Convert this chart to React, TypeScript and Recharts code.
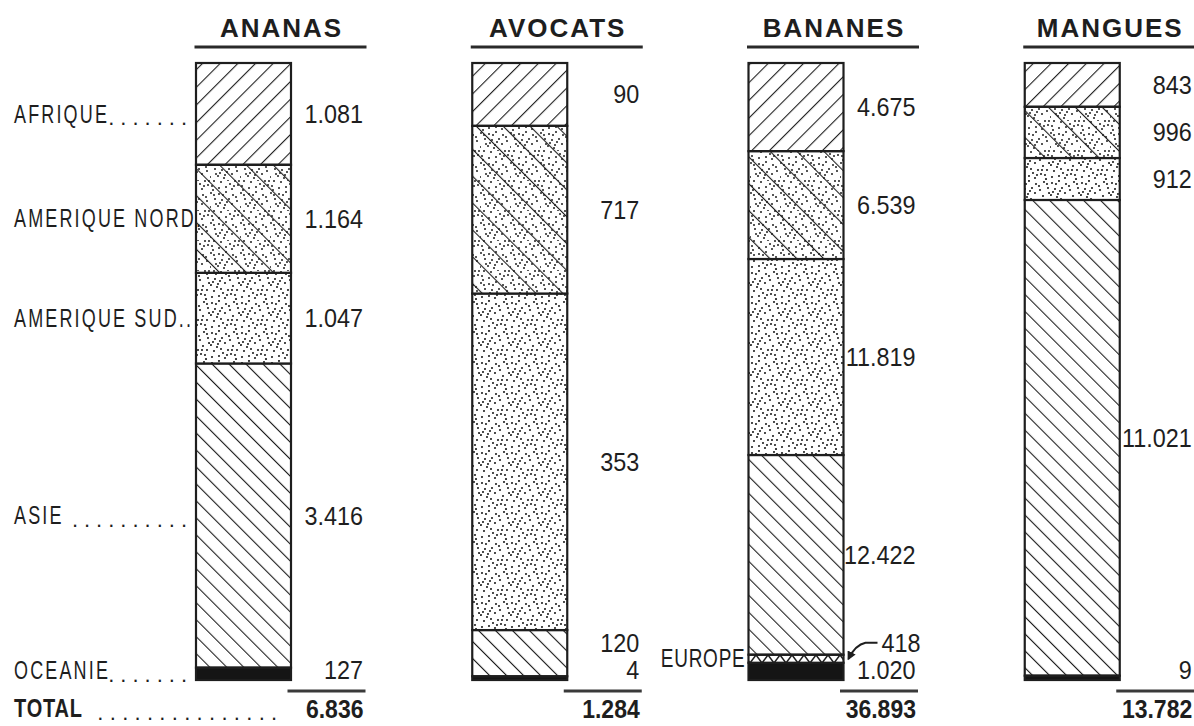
import React from 'react';
import { BarChart, Bar, XAxis, YAxis } from 'recharts';

// ---- data ----
const categories = ['ANANAS', 'AVOCATS', 'BANANES', 'MANGUES'];

// tonnages printed beside each segment
const afriqueTonnes = [1081, 90, 4675, 843];
const ameriqueNordTonnes = [1164, 717, 6539, 996];
const ameriqueSudTonnes = [1047, 353, 11819, 912];
const asieTonnes = [3416, 120, 12422, 11021];
const europeTonnes = [null, null, 418, null];
const oceanieTonnes = [127, 4, 1020, 9];
const totalTonnes = [6836, 1284, 36893, 13782];

// share of each bar as drawn in the picture (percent of bar height)
const afriqueShare = [16.5, 10.2, 14.3, 7.1];
const ameriqueNordShare = [17.5, 27.2, 17.5, 8.3];
const ameriqueSudShare = [14.7, 54.6, 31.8, 6.8];
const asieShare = [49.3, 7.5, 32.4, 77.1];
const europeShare = [0, 0, 1.3, 0];
const oceanieShare = [2.0, 0.6, 2.8, 0.7];

const rows = categories.map((name, i) => ({
  name,
  oceanie: oceanieShare[i],
  europe: europeShare[i],
  asie: asieShare[i],
  amSud: ameriqueSudShare[i],
  amNord: ameriqueNordShare[i],
  afrique: afriqueShare[i],
}));

const series = [
  { key: 'oceanie', name: 'OCEANIE', tonnes: oceanieTonnes, fill: '#151515', overlay: null, dots: '.......' },
  { key: 'europe', name: 'EUROPE', tonnes: europeTonnes, fill: 'url(#pEurope)', overlay: null, dots: '' },
  { key: 'asie', name: 'ASIE', tonnes: asieTonnes, fill: 'url(#pBack)', overlay: null, dots: '..........' },
  { key: 'amSud', name: 'AMERIQUE SUD..', tonnes: ameriqueSudTonnes, fill: 'url(#pDots)', overlay: null, dots: '' },
  { key: 'amNord', name: 'AMERIQUE NORD.', tonnes: ameriqueNordTonnes, fill: 'url(#pDots2)', overlay: 'url(#pNordLines)', dots: '' },
  { key: 'afrique', name: 'AFRIQUE', tonnes: afriqueTonnes, fill: 'url(#pFwd)', overlay: null, dots: '.......' },
];

const fmt = (n: number) => String(n).replace(/\B(?=(\d{3})+(?!\d))/g, '.');

const FONT = "'Liberation Sans', Arial, Helvetica, sans-serif";
const INK = '#1e1e1e';
const PLOT_BOTTOM = 680;

const dotPts = [
  [2, 3], [9, 1], [16, 4], [24, 2], [28, 8], [5, 9], [12, 8], [20, 10], [1, 15], [8, 14],
  [15, 13], [23, 16], [27, 20], [4, 21], [11, 19], [18, 20], [25, 25], [2, 27], [9, 26],
  [15, 28], [21, 24], [13, 23], [29, 13], [19, 6], [6, 4], [26, 29], [22, 20], [7, 17],
  [17, 25], [10, 11], [27, 4], [3, 12],
];

// condensed text: horizontal squeeze around the anchor point
const CText = (p: any) => {
  const { x, y, sx = 0.82, anchor = 'start', size = 25, bold = false, ls = 0, children } = p;
  return (
    <text
      transform={`translate(${x},${y}) scale(${sx},1)`}
      x={0}
      y={0}
      textAnchor={anchor}
      dominantBaseline="central"
      fontFamily={FONT}
      fontSize={size}
      fontWeight={bold ? 'bold' : 'normal'}
      letterSpacing={ls}
      fill={INK}
    >
      {children}
    </text>
  );
};

const makeShape = (s: any) => (props: any) => {
  const { x, y, width, height, index } = props;
  if (!height || height <= 0) return null;
  const t = s.tonnes[index];
  const right = x + width;
  const cx = x + width / 2;
  let labelY = Math.min(y + height / 2, PLOT_BOTTOM - 37);
  if (s.key === 'oceanie') labelY = y + height - 10;
  const els: any[] = [];
  els.push(<rect key="r" x={x} y={y} width={width} height={height} fill={s.fill} />);
  if (s.overlay) els.push(<rect key="o" x={x} y={y} width={width} height={height} fill={s.overlay} />);
  els.push(
    <rect key="s" x={x} y={y} width={width} height={height} fill="none" stroke={INK} strokeWidth={2.2} />
  );
  if (t != null) {
    if (s.key === 'europe') {
      els.push(<CText key="v" x={right + 77} y={y - 12} anchor="end" sx={0.9} size={26}>{fmt(t)}</CText>);
      els.push(
        <path key="a" d={`M${right + 34},${y - 12} L${right + 22},${y - 12} Q${right + 12},${y - 10} ${right + 5},${y + 4}`}
          fill="none" stroke={INK} strokeWidth={2} markerEnd="url(#arrowHead)" />
      );
      els.push(<CText key="n" x={x - 3} y={y + height / 2} anchor="end" sx={0.76} size={25} ls={1}>{s.name}</CText>);
    } else {
      els.push(<CText key="v" x={right + 72} y={labelY} anchor="end" sx={0.9} size={26}>{fmt(t)}</CText>);
      if (index === 0) {
        els.push(<CText key="n" x={14} y={labelY} sx={0.72} size={25} ls={3}>{s.name}</CText>);
        if (s.dots) {
          els.push(
            <text key="d" x={x - 3} y={labelY + 4} textAnchor="end" dominantBaseline="central"
              fontFamily={FONT} fontSize={22} fill={INK} letterSpacing={6}>{s.dots}</text>
          );
        }
      }
    }
  }
  // category title above the top segment
  if (s.key === 'afrique') {
    els.push(
      <text key="title" x={cx + 38} y={37} textAnchor="middle" fontFamily={FONT} fontWeight="bold"
        fontSize={26} letterSpacing={2} fill={INK}>{categories[index]}</text>
    );
    els.push(<line key="tl" x1={cx - 49} x2={cx + 123} y1={47} y2={47} stroke="#2a2a2a" strokeWidth={3} />);
  }
  // total under the bottom segment
  if (s.key === 'oceanie') {
    els.push(<line key="ul" x1={cx + 44} x2={cx + 122} y1={691} y2={691} stroke="#3a3a3a" strokeWidth={3} />);
    els.push(
      <CText key="tot" x={cx + 120} y={709} anchor="end" sx={0.92} size={25} bold>{fmt(totalTonnes[index])}</CText>
    );
    if (index === 0) {
      els.push(<CText key="TT" x={14} y={709} sx={0.8} size={25} bold ls={1}>TOTAL</CText>);
      els.push(
        <text key="td" x={cx + 40} y={712} textAnchor="end" dominantBaseline="central" fontFamily={FONT}
          fontSize={22} letterSpacing={6.3} fill={INK}>{'...............'}</text>
      );
    }
  }
  return <g>{els}</g>;
};

export default function App() {
  return (
    <div style={{ position: 'absolute', left: 0, top: 0, width: 1194, height: 726, overflow: 'hidden', background: '#fff' }}>
      <BarChart
        width={1210}
        height={726}
        data={rows}
        stackOffset="expand"
        margin={{ top: 63, bottom: 46, left: 105, right: 0 }}
        barSize={95}
      >
        <defs>
          <pattern id="pFwd" patternUnits="userSpaceOnUse" width={12.5} height={12.5} patternTransform="rotate(45)">
            <line x1={0} y1={-2} x2={0} y2={15} stroke={INK} strokeWidth={2.2} />
          </pattern>
          <pattern id="pBack" patternUnits="userSpaceOnUse" width={12} height={12} patternTransform="rotate(-45)">
            <line x1={0} y1={-2} x2={0} y2={14} stroke={INK} strokeWidth={2.2} />
          </pattern>
          <pattern id="pDots" patternUnits="userSpaceOnUse" width={30} height={30}>
            <rect width={30} height={30} fill="#fff" />
            {dotPts.map((p, k) => (
              <circle key={k} cx={p[0]} cy={p[1]} r={1.05} fill={INK} />
            ))}
          </pattern>
          <pattern id="pDots2" patternUnits="userSpaceOnUse" width={30} height={30}>
            <rect width={30} height={30} fill="#fff" />
            {dotPts.map((p, k) => (
              <circle key={k} cx={(p[0] + 7) % 30} cy={(p[1] + 11) % 30} r={1.0} fill={INK} />
            ))}
          </pattern>
          <pattern id="pNordLines" patternUnits="userSpaceOnUse" width={19} height={19} patternTransform="rotate(-45)">
            <line x1={0} y1={-2} x2={0} y2={21} stroke={INK} strokeWidth={2.2} />
          </pattern>
          <pattern id="pEurope" patternUnits="userSpaceOnUse" width={12} height={8} y={7}>
            <rect width={12} height={8} fill="#fff" />
            <path d="M0,0 L6,8 L12,0" fill="none" stroke={INK} strokeWidth={1.5} />
          </pattern>
          <marker id="arrowHead" markerWidth={9} markerHeight={9} refX={7} refY={4.5} orient="auto" markerUnits="userSpaceOnUse">
            <path d="M0,0 L9,4.5 L0,9 Z" fill={INK} />
          </marker>
        </defs>
        <XAxis dataKey="name" hide />
        <YAxis hide domain={[0, 1]} />
        {series.map((s) => (
          <Bar key={s.key} dataKey={s.key} stackId="a" fill={s.fill}
            isAnimationActive={false} shape={makeShape(s)} />
        ))}
      </BarChart>
    </div>
  );
}
